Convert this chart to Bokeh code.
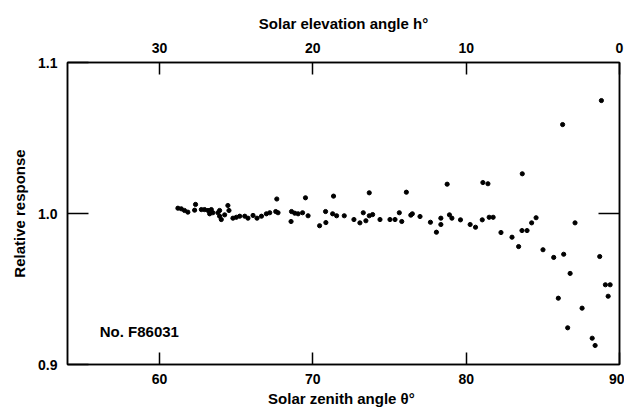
from bokeh.plotting import figure
from bokeh.models import Range1d, LinearAxis, FixedTicker, PrintfTickFormatter, Label
from bokeh.embed import file_html
from bokeh.resources import INLINE

# Data: solar zenith angle (deg) and relative response
zenith = [61.20, 61.42, 61.63, 61.85, 62.35, 62.29, 62.73, 62.94, 63.16, 63.38,
          63.27, 63.48, 63.81, 63.92, 64.03, 63.92, 64.53, 64.46, 64.25, 64.79,
          65.01, 65.23, 65.56, 65.77, 66.10, 66.36, 66.65, 66.97, 67.19, 67.58,
          67.73, 67.65, 69.52, 71.35, 73.68, 68.61, 68.82, 69.04, 69.33, 68.58,
          69.69, 70.44, 70.85, 70.83, 71.29, 71.55, 72.05, 72.68, 73.07, 73.29,
          73.46, 73.68, 73.90, 74.38, 75.03, 75.36, 75.64, 76.10, 78.76, 81.09,
          81.42, 75.80, 76.39, 76.49, 76.99, 77.67, 78.06, 78.35, 78.35, 78.91,
          79.07, 79.63, 80.26, 80.61, 81.05, 81.50, 81.76, 82.27, 82.99, 83.42,
          83.64, 83.97, 83.66, 84.27, 84.56, 85.01, 85.71, 86.29, 86.36, 87.10,
          88.71, 86.78, 89.08, 89.39, 89.26, 86.01, 87.56, 86.62, 88.22, 88.41,
          88.82]
response = [1.0035, 1.0031, 1.0020, 1.0009, 1.0060, 1.0022, 1.0026, 1.0026, 1.0020, 1.0026,
            0.9998, 1.0005, 1.0005, 0.9982, 0.9960, 1.0020, 1.0020, 1.0053, 0.9991, 0.9969,
            0.9975, 0.9982, 0.9982, 0.9969, 0.9987, 0.9969, 0.9982, 0.9998, 1.0005, 1.0013,
            1.0005, 1.0096, 1.0104, 1.0115, 1.0137, 1.0013, 1.0002, 0.9998, 1.0005, 0.9947,
            0.9985, 0.9919, 0.9940, 1.0013, 0.9998, 0.9985, 0.9985, 0.9960, 0.9938, 1.0005,
            0.9952, 0.9985, 0.9993, 0.9960, 0.9960, 0.9960, 1.0005, 1.0141, 1.0194, 1.0205,
            1.0197, 0.9947, 0.9989, 0.9998, 0.9980, 0.9942, 0.9876, 0.9969, 0.9927, 0.9991,
            0.9969, 0.9958, 0.9927, 0.9909, 0.9958, 0.9975, 0.9975, 0.9874, 0.9843, 0.9781,
            0.9887, 0.9887, 1.0263, 0.9938, 0.9972, 0.9760, 0.9709, 1.0589, 0.9730, 0.9938,
            0.9715, 0.9603, 0.9528, 0.9528, 0.9452, 0.9439, 0.9373, 0.9243, 0.9174, 0.9126,
            1.0748]

zenith_ticks = [60, 70, 80, 90]
elevation_ticks = [30, 20, 10, 0]
response_ticks = [0.9, 1.0, 1.1]
reference_ticks = [1.0]
x_min, x_max = 54, 90
y_min, y_max = 0.9, 1.1
note = "No. F86031"

FONT = "Liberation Sans"

p = figure(width=624, height=412,
           x_range=Range1d(x_min, x_max), y_range=Range1d(y_min, y_max),
           output_backend="svg", toolbar_location=None,
           x_axis_location=None, y_axis_location=None,
           min_border_left=67, min_border_right=5,
           min_border_top=62, min_border_bottom=48,
           background_fill_color="white", border_fill_color="white")
p.outline_line_color = "black"
p.outline_line_width = 1.5
p.extra_x_ranges = {"elev": Range1d(90 - x_min, 90 - x_max)}
for g in p.grid:
    g.visible = False


def style(ax, tick_in):
    ax.major_tick_in = tick_in
    ax.major_tick_out = 0
    ax.minor_tick_in = 0
    ax.minor_tick_out = 0
    ax.axis_line_color = "black"
    ax.axis_line_width = 1.5
    ax.major_tick_line_color = "black"
    ax.major_tick_line_width = 1.5
    ax.major_label_text_font = FONT
    ax.major_label_text_font_style = "bold"
    ax.major_label_text_font_size = "14px"
    ax.major_label_text_color = "black"
    ax.axis_label_text_font = FONT
    ax.axis_label_text_font_style = "bold"
    ax.axis_label_text_font_size = "15px"
    ax.axis_label_text_color = "black"


bottom = LinearAxis(ticker=FixedTicker(ticks=zenith_ticks),
                    axis_label="Solar zenith angle  θ°")
style(bottom, 12)
bottom.major_label_standoff = 9
bottom.axis_label_standoff = 3
p.add_layout(bottom, "below")

top = LinearAxis(x_range_name="elev", ticker=FixedTicker(ticks=elevation_ticks),
                 axis_label="Solar elevation angle h°")
style(top, 12)
top.major_label_standoff = 10
top.axis_label_standoff = 8
p.add_layout(top, "above")

left = LinearAxis(ticker=FixedTicker(ticks=response_ticks),
                  formatter=PrintfTickFormatter(format="%.1f"),
                  axis_label="Relative response")
style(left, 21)
left.major_label_standoff = 10
left.axis_label_standoff = 7
p.add_layout(left, "left")

right = LinearAxis(ticker=FixedTicker(ticks=reference_ticks))
style(right, 21)
right.major_label_text_color = None
right.major_label_standoff = 0
p.add_layout(right, "right")

p.scatter(zenith, response, size=4.2, marker="circle",
          fill_color="black", line_color="black")

p.add_layout(Label(x=56.1, y=0.922, text=note, text_font=FONT,
                   text_font_style="bold", text_font_size="15px",
                   text_baseline="middle", text_align="left", text_color="black"))

open("out.html", "w").write(file_html(p, INLINE))
